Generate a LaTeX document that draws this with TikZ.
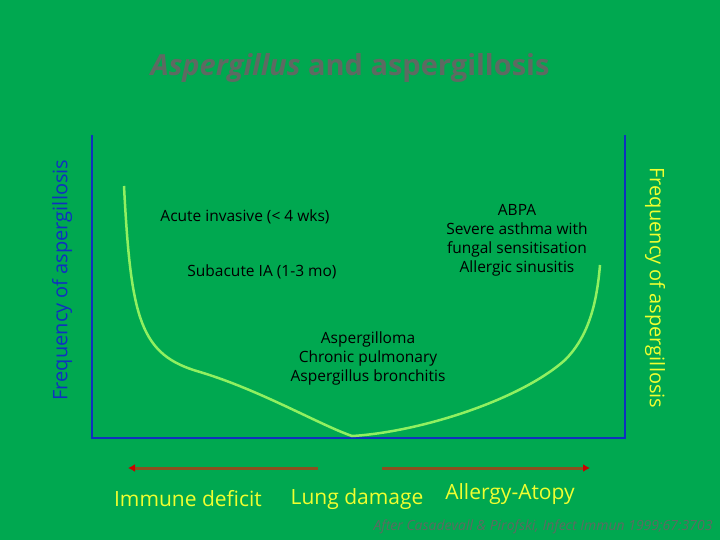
\documentclass[tikz,border=0pt]{standalone}
\usepackage{fontspec}
\setmainfont{Open Sans}
\usetikzlibrary{arrows.meta}
\definecolor{bg}{HTML}{00A850}
\definecolor{curvec}{HTML}{90F060}
\definecolor{axisc}{HTML}{1030C0}
\definecolor{ylw}{HTML}{F0FF30}
\definecolor{brn}{HTML}{8A5020}
\definecolor{gry}{HTML}{5E6A62}
\tikzset{lbl/.style={font=\fontsize{15.5}{19}\selectfont, align=center, text=black},
 ax/.style={draw=axisc, line width=1.5pt},
 harrow/.style={draw=brn, line width=3pt, -{Latex[length=7pt,width=8pt,color=red!80!black]}},
 foot/.style={text=ylw, font=\fontsize{21}{24}\selectfont}}
\begin{document}
\begin{tikzpicture}[x=1pt,y=-1pt]
\fill[bg] (0,0) rectangle (720,540);
\useasboundingbox (0,0) rectangle (720,540);
\node[text=gry, font=\bfseries\fontsize{29}{32}\selectfont] (title) at (350,68) {\textit{Aspergillus} and aspergillosis};
\coordinate (tl) at (92,135); \coordinate (bl) at (92,438);
\coordinate (br) at (625,438); \coordinate (tr) at (625,135);
\draw[ax] (tl) -- (bl) -- (br) -- (tr);
\draw[curvec, line width=2.5pt] (124,186) .. controls (131,320) and (140,355) .. (200,372)
  .. controls (260,390) and (320,425) .. (352,436)
  .. controls (420,432) and (520,400) .. (565,360)
  .. controls (590,335) and (597,300) .. (600,265);
\node[rotate=90, text=axisc, font=\fontsize{20}{22}\selectfont] (yl) at (62,280) {Frequency of aspergillosis};
\node[rotate=-90, text=ylw, font=\fontsize{20}{22}\selectfont] (yr) at (655,288) {Frequency of aspergillosis};
\node[lbl] (a1) at (245,217) {Acute invasive (< 4 wks)};
\node[lbl] (a2) at (262,272) {Subacute IA (1-3 mo)};
\node[lbl] (a3) at (517,240) {ABPA\\Severe asthma with\\fungal sensitisation\\Allergic sinusitis};
\node[lbl] (a4) at (368,358) {Aspergilloma\\Chronic pulmonary\\Aspergillus bronchitis};
\coordinate (l1) at (318,468); \coordinate (l2) at (128,468);
\coordinate (r1) at (382,468); \coordinate (r2) at (590,468);
\draw[harrow] (l1) -- (l2);
\draw[harrow] (r1) -- (r2);
\node[foot] (f1) at (188,499) {Immune deficit};
\node[foot] (f2) at (357,499) {Lung damage};
\node[foot] (f3) at (510,494) {Allergy-Atopy};
\node[text=gry, font=\itshape\fontsize{14}{16}\selectfont, anchor=east] (cite) at (716,527) {After Casadevall \& Pirofski, Infect Immun 1999;67:3703};
\end{tikzpicture}
\end{document}
